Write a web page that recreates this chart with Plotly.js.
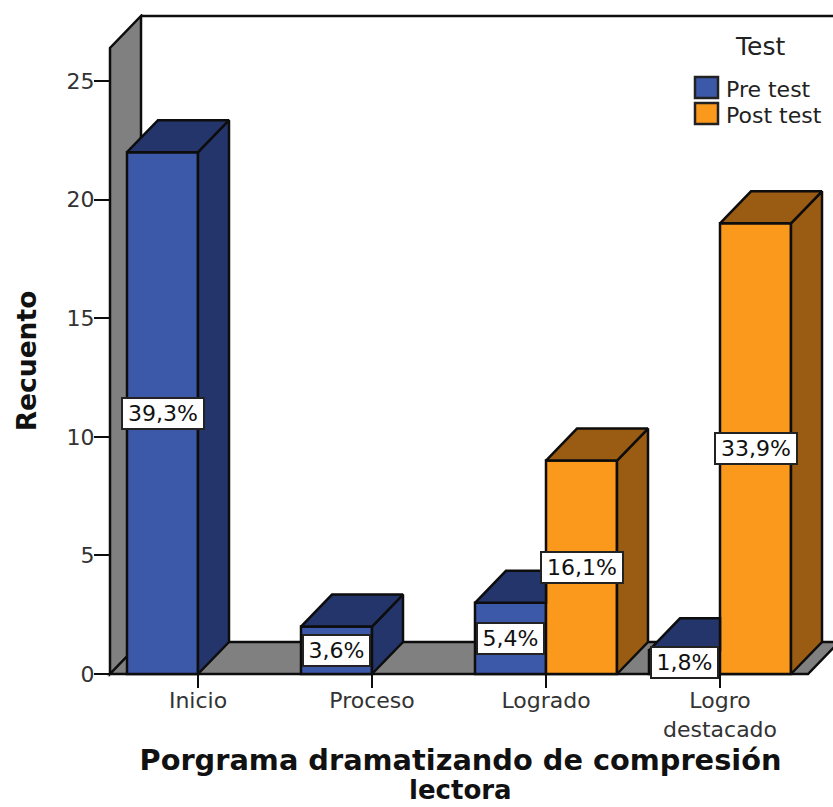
<!DOCTYPE html>
<html><head><meta charset="utf-8">
<script src="https://cdn.plot.ly/plotly-3.0.1.min.js"></script>
<style>html,body{margin:0;padding:0;background:#fff}</style></head>
<body><div id="chart" style="width:833px;height:807px"></div>
<script>
const categories = ["Inicio", "Proceso", "Logrado", "Logro<br>destacado"];
const preTest = [22, 2, 3, 1];
const postTest = [0, 0, 9, 19];
const preLabels = ["39,3%", "3,6%", "5,4%", "1,8%"];
const postLabels = ["", "", "16,1%", "33,9%"];
const seriesNames = ["Pre test", "Post test"];
const legendTitle = "Test";
const xTitleLines = ["Porgrama dramatizando de compresión", "lectora"];
const yTitle = "Recuento";
const yTicks = [0, 5, 10, 15, 20, 25];

// plot box is wider/taller than the drawn frame so the axis titles sit where the reference has them
const W = 833, H = 807, mL = 88, mT = 14, mB = 99, axisLeft = 110, axisBottom = 674;
const yPx = 23.72, xPx = 174;
const x0 = (mL - 198) / xPx, x1 = (W - 198) / xPx;
const yMin = -(H - mB - axisBottom) / yPx, yMax = (axisBottom - mT) / yPx;
const dx = 31 / xPx, dy = 32 / yPx, bw = 71 / xPx;
const INK = "#0d0d0d", FONT = "DejaVu Sans, Arial, sans-serif", LW = 2.5;
const COL = {pre: ["#3c58a9", "#24356b"], post: ["#fb991c", "#9a5b12"]};

function poly(xs, ys, color) {
  return {type: "scatter", mode: "lines", x: xs, y: ys, fill: "toself", fillcolor: color,
    line: {color: INK, width: LW}, hoverinfo: "skip", showlegend: false};
}
const faces = [];
categories.forEach((c, i) => {
  [[preTest, COL.pre, -bw, postTest], [postTest, COL.post, 0, null]].forEach(([vals, col, off, front]) => {
    const v = vals[i];
    if (!v) return;
    const l = i + off, r = l + bw;
    if (front && front[i] > v) {
      // the taller bar beside this one hides its side and part of its top
      faces.push(poly([l, l + dx, i, i, l], [v, v + dy, v + dy, v, v], col[1]));
    } else {
      faces.push(poly([r, r + dx, r + dx, r, r], [0, dy, v + dy, v, 0], col[1]));
      faces.push(poly([l, l + dx, r + dx, r, l], [v, v + dy, v + dy, v, v], col[1]));
    }
  });
});
const idx = categories.map((c, i) => i);
const bars = [[preTest, COL.pre, seriesNames[0]], [postTest, COL.post, seriesNames[1]]].map(([v, col, n]) => ({
  type: "bar", name: n, x: idx, y: v,
  marker: {color: col[0], line: {color: INK, width: v.map(val => val ? LW : 0)}},
  hovertemplate: n + ": %{y}<extra></extra>", showlegend: false}));

const wallX = (axisLeft - 198) / xPx, topB = (axisBottom - 16) / yPx;
const backX = wallX + dx, frontEnd = (808 - 198) / xPx;
const path = pts => "M" + pts.map(p => p[0] + "," + p[1]).join("L") + "Z";
const shapes = [
  {type: "path", layer: "below", xref: "x", yref: "y", fillcolor: "#808080", line: {color: INK, width: LW},
   path: path([[wallX, 0], [wallX, topB - dy], [backX, topB], [backX, dy]])},
  {type: "path", layer: "below", xref: "x", yref: "y", fillcolor: "#808080", line: {color: INK, width: LW},
   path: path([[wallX, 0], [backX, dy], [frontEnd + dx, dy], [frontEnd, 0]])},
  {type: "line", layer: "below", xref: "x", yref: "y", x0: backX, x1: x1, y0: topB, y1: topB, line: {color: INK, width: LW}}
];
const paperX = p => (p - mL) / (W - mL), paperY = p => (H - mB - p) / (H - mB - mT);
[[77, COL.pre[0]], [103, COL.post[0]]].forEach(([t, c]) => shapes.push({
  type: "rect", xref: "paper", yref: "paper", x0: paperX(695), x1: paperX(718), y0: paperY(t + 21), y1: paperY(t),
  fillcolor: c, line: {color: "#222", width: LW}}));

function note(x, y, text) {
  return {x, y, xref: "x", yref: "y", text, showarrow: false, bgcolor: "#fff", bordercolor: "#222", borderwidth: 2,
    borderpad: 2, width: text.length * 15.2, font: {family: FONT, size: 22, color: "#111"}};
}
const annotations = [];
preTest.forEach((v, i) => { if (preLabels[i]) annotations.push(note(i - bw / 2, v / 2, preLabels[i])); });
postTest.forEach((v, i) => { if (postLabels[i]) annotations.push(note(i + bw / 2, v / 2, postLabels[i])); });
annotations.push({xref: "paper", yref: "paper", x: paperX(760), y: paperY(47), xanchor: "center", yanchor: "middle",
  text: legendTitle, showarrow: false, font: {family: FONT, size: 25, color: "#222"}});
[[seriesNames[0], 89], [seriesNames[1], 115]].forEach(([t, y]) => annotations.push({
  xref: "paper", yref: "paper", x: paperX(726), y: paperY(y), xanchor: "left", yanchor: "middle", text: t,
  showarrow: false, xshift: -2, font: {family: FONT, size: 22, color: "#222"}}));
annotations.push({xref: "paper", yref: "paper", x: 0.5, y: paperY(790), xanchor: "center", yanchor: "middle",
  text: xTitleLines[1], showarrow: false, font: {family: FONT, size: 26, weight: "bold", color: "#111"}});

Plotly.newPlot("chart", [...bars, ...faces], {
  width: W, height: H, margin: {l: mL, r: 0, t: mT, b: mB, pad: 0},
  paper_bgcolor: "#fff", plot_bgcolor: "#fff", showlegend: false,
  barmode: "group", bargap: 1 - 142 / xPx, bargroupgap: 0,
  font: {family: FONT},
  xaxis: {range: [x0, x1], anchor: "free", position: (H - mB - axisBottom) / (H - mB - mT),
    tickmode: "array", tickvals: idx, ticktext: categories, ticks: "outside", ticklen: 13,
    tickwidth: 2, tickcolor: INK, showgrid: false, zeroline: false, showline: false, ticklabelstandoff: -6,
    tickfont: {family: FONT, size: 22, color: "#333"},
    title: {text: xTitleLines[0], standoff: 8,
      font: {family: FONT, size: 28.8, weight: "bold", color: "#111"}}},
  yaxis: {range: [yMin, yMax], anchor: "free", position: (axisLeft - mL) / (W - mL),
    tickmode: "array", tickvals: yTicks, ticks: "outside", ticklen: 16, tickwidth: 2,
    tickcolor: INK, showgrid: false, zeroline: false, showline: false, ticklabelstandoff: -5,
    tickfont: {family: FONT, size: 22, color: "#333"},
    title: {text: yTitle, standoff: 21, font: {family: FONT, size: 26.5, weight: "bold", color: "#111"}}},
  shapes, annotations
}, {displayModeBar: false, responsive: false});
</script></body></html>
